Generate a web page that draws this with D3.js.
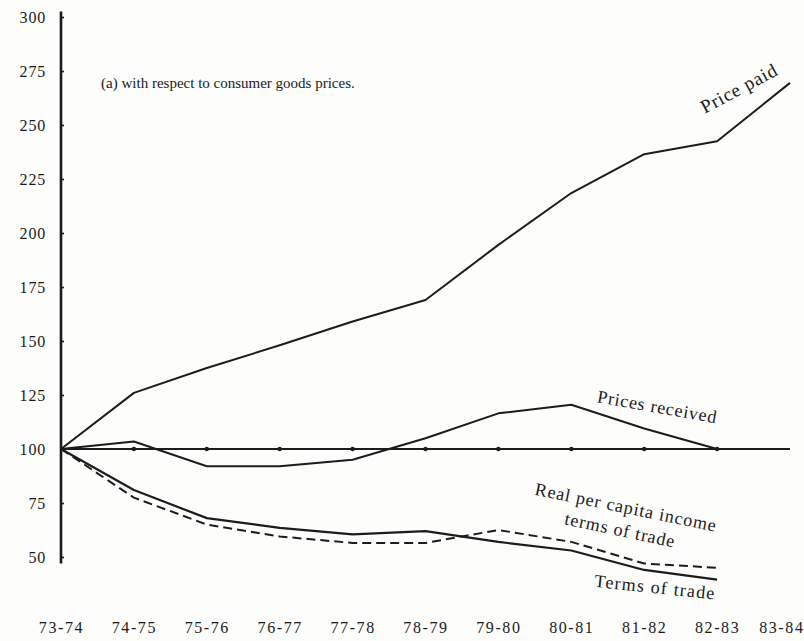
<!DOCTYPE html>
<html>
<head>
<meta charset="utf-8">
<script src="https://cdn.jsdelivr.net/npm/d3@7"></script>
<style>
  html, body { margin: 0; padding: 0; background: #fdfdfc; }
  svg { display: block; }
</style>
</head>
<body>
<svg id="chart" width="804" height="641"></svg>
<script>
// Seasons along the horizontal axis
const seasons = ["73-74", "74-75", "75-76", "76-77", "77-78", "78-79",
                 "79-80", "80-81", "81-82", "82-83", "83-84"];

// Index values (73-74 = 100)
const pricePaid      = [100, 126, 137.5, 148, 159, 169, 194.5, 218.5, 236.5, 242.5, 269.5];
const pricesReceived = [100, 103.5, 92, 92, 95, 105, 116.5, 120.5, 109.5, 100];
const baseLevel      = [100, 100, 100, 100, 100, 100, 100, 100, 100, 100, 100];
const termsOfTrade   = [100, 81, 68, 63.5, 60.5, 62, 57, 53, 44, 39.5];
const realIncomeTot  = [100, 77.5, 65, 59.5, 56.5, 56.5, 62.5, 57, 47, 45];

const yTicks = [50, 75, 100, 125, 150, 175, 200, 225, 250, 275, 300];

// Annotations placed in data coordinates: season index, value, rotation
const notes = [
  { text: "(a)  with respect to consumer goods prices.", i: 0.55, v: 269.5, rot: 0, anchor: "start", size: 15, ls: 0 },
  { text: "Price paid", i: 9.3, v: 267, rot: -28, anchor: "middle", size: 19, ls: 0.8 },
  { text: "Prices received", i: 8.18, v: 119.5, rot: 10, anchor: "middle", size: 18, ls: 0.8 },
  { text: "Real per capita income", i: 7.75, v: 73, rot: 11.5, anchor: "middle", size: 18, ls: 0.9 },
  { text: "terms of trade", i: 7.67, v: 62.5, rot: 12, anchor: "middle", size: 18, ls: 0.9 },
  { text: "Terms of trade", i: 8.15, v: 36, rot: 6, anchor: "middle", size: 18, ls: 1.2 }
];

const FONT = "'Liberation Serif', 'DejaVu Serif', 'Noto Serif', 'Times New Roman', Times, serif";
const INK = "#1a1a1a";

const svg = d3.select("#chart")
  .attr("font-family", FONT);

const x = d3.scalePoint().domain(seasons).range([61, 790]);
const y = d3.scaleLinear().domain([50, 300]).range([557, 17]);
const xi = i => x(seasons[0]) + i * x.step();

// Vertical axis: heavy spine, small nubs, labels to the left
svg.append("line")
  .attr("x1", x(seasons[0])).attr("x2", x(seasons[0]))
  .attr("y1", y(302.5)).attr("y2", y(47))
  .attr("stroke", INK).attr("stroke-width", 2.6);

svg.append("g")
  .attr("transform", `translate(${x(seasons[0])},0)`)
  .call(d3.axisRight(y).tickValues(yTicks).tickSize(3).tickFormat(""))
  .call(g => g.select(".domain").remove())
  .call(g => g.selectAll("line").attr("stroke", INK).attr("stroke-width", 1.6));

svg.append("g")
  .attr("transform", `translate(${x(seasons[0])},0)`)
  .call(d3.axisLeft(y).tickValues(yTicks).tickSize(0).tickPadding(15))
  .attr("font-family", FONT).attr("font-size", 16)
  .call(g => g.select(".domain").remove())
  .call(g => g.selectAll("text").attr("fill", INK).attr("letter-spacing", 0.8));

// Horizontal axis labels only; the last one is kept inside the frame
svg.append("g")
  .attr("transform", "translate(0,619)")
  .call(d3.axisBottom(x).tickSize(0).tickPadding(3))
  .attr("font-family", FONT).attr("font-size", 16)
  .call(g => g.select(".domain").remove())
  .call(g => g.selectAll("text").attr("fill", INK).attr("letter-spacing", 1.6))
  .call(g => g.selectAll(".tick").filter(d => d === seasons[seasons.length - 1])
    .select("text").attr("text-anchor", "end").attr("dx", 14));

const line = d3.line().x((d, i) => x(seasons[i])).y(d => y(d));

const series = [
  { values: baseLevel, dash: null, width: 2.2 },
  { values: pricePaid, dash: null, width: 2.0 },
  { values: pricesReceived, dash: null, width: 2.0 },
  { values: termsOfTrade, dash: null, width: 2.2 },
  { values: realIncomeTot, dash: "9,5", width: 2.0 }
];

svg.append("g").selectAll("path")
  .data(series)
  .join("path")
  .attr("d", d => line(d.values))
  .attr("fill", "none")
  .attr("stroke", "#1c1c1c")
  .attr("stroke-width", d => d.width)
  .attr("stroke-linejoin", "round")
  .attr("stroke-dasharray", d => d.dash);

// Small point marks along the 100 base line
svg.append("g").selectAll("circle")
  .data(baseLevel.slice(1, -1))
  .join("circle")
  .attr("cx", (d, i) => x(seasons[i + 1]))
  .attr("cy", d => y(d))
  .attr("r", 2.2)
  .attr("fill", "#1c1c1c");

// Curve annotations
svg.append("g").selectAll("text")
  .data(notes)
  .join("text")
  .attr("transform", d => `translate(${xi(d.i)},${y(d.v)}) rotate(${d.rot})`)
  .attr("text-anchor", d => d.anchor)
  .attr("dominant-baseline", "central")
  .attr("font-size", d => d.size)
  .attr("letter-spacing", d => d.ls)
  .attr("fill", INK)
  .text(d => d.text);
</script>
</body>
</html>
